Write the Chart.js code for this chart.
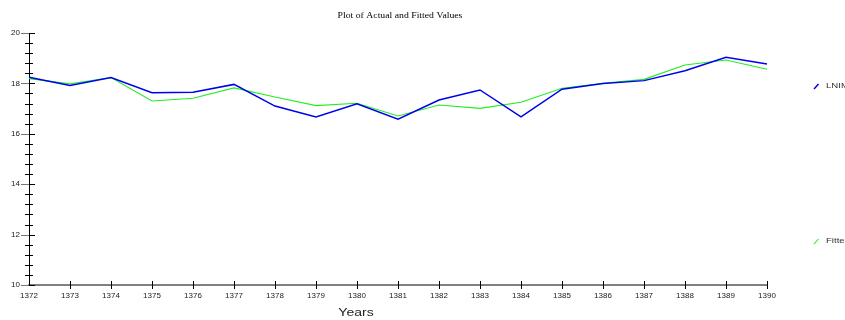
<!DOCTYPE html>
<html>
<head>
<meta charset="utf-8">
<title>Plot of Actual and Fitted Values</title>
<script src="https://cdn.jsdelivr.net/npm/chart.js@4/dist/chart.umd.min.js"></script>
<style>
  html, body { margin: 0; padding: 0; background: #fff; }
  canvas { display: block; }
</style>
</head>
<body>
<canvas id="plot" width="845" height="320"></canvas>
<script>
// data
const years = ['1372', '1373', '1374', '1375', '1376', '1377', '1378', '1379', '1380', '1381',
               '1382', '1383', '1384', '1385', '1386', '1387', '1388', '1389', '1390'];
const lnim = [18.24, 17.92, 18.23, 17.63, 17.65, 17.96, 17.10, 16.67, 17.19, 16.58,
              17.34, 17.74, 16.67, 17.77, 18.00, 18.11, 18.50, 19.04, 18.77];
const fitted = [18.19, 17.98, 18.23, 17.30, 17.41, 17.82, 17.46, 17.12, 17.21, 16.71,
                17.14, 17.01, 17.25, 17.81, 18.00, 18.16, 18.73, 18.93, 18.56];
const yMin = 10, yMax = 20, yStep = 2, yMinorStep = 0.4;

const titleText = 'Plot of Actual and Fitted Values';
const xTitle = 'Years';

// tick marks, title, legend and axis title
const decor = {
    id: 'decor',
    afterDraw(chart) {
        const ctx = chart.ctx;
        const x = chart.scales.x, y = chart.scales.y;
        const ax = chart.chartArea.left, ay = chart.chartArea.bottom;
        ctx.save();
        ctx.lineWidth = 1;

        // y axis minor + major ticks
        for (let v = yMin; v <= yMax + 1e-6; v += yMinorStep) {
            const py = Math.round(y.getPixelForValue(v)) + 0.5;
            const major = Math.abs(v / yStep - Math.round(v / yStep)) < 1e-6;
            ctx.beginPath();
            if (major) {
                ctx.strokeStyle = '#777';
                ctx.moveTo(ax - 8, py); ctx.lineTo(ax, py); ctx.stroke();
                ctx.beginPath();
                ctx.strokeStyle = '#000';
                ctx.moveTo(ax, py); ctx.lineTo(ax + 6, py);
            } else {
                ctx.strokeStyle = '#000';
                ctx.moveTo(ax - 4, py); ctx.lineTo(ax + 4, py);
            }
            ctx.stroke();
        }

        // x ticks crossing the axis
        ctx.strokeStyle = '#000';
        years.forEach((yr, i) => {
            if (i === 0) return;
            const px = Math.round(x.getPixelForValue(i)) + 0.5;
            ctx.beginPath();
            ctx.moveTo(px, ay - 4); ctx.lineTo(px, ay + 4);
            ctx.stroke();
        });

        // title
        ctx.fillStyle = '#000';
        ctx.textAlign = 'center';
        ctx.textBaseline = 'middle';
        ctx.save();
        ctx.translate(400, 16);
        ctx.scale(1.3, 1);
        ctx.font = '7.5px "Liberation Serif", "Times New Roman", serif';
        ctx.fillText(titleText, 0, 0);
        ctx.restore();

        // x axis title
        ctx.save();
        ctx.translate(356, 313);
        ctx.scale(1.4, 1);
        ctx.fillStyle = '#222';
        ctx.font = '10px "Liberation Sans", Arial, sans-serif';
        ctx.fillText(xTitle, 0, 0);
        ctx.restore();

        // legend on the right (runs off the canvas edge as in the original)
        const legendRows = [{ ds: 0, y: 86 }, { ds: 1, y: 241 }];
        legendRows.forEach(r => {
            const ds = chart.data.datasets[r.ds];
            ctx.strokeStyle = ds.borderColor;
            ctx.lineWidth = ds.borderWidth;
            ctx.beginPath();
            ctx.moveTo(814, r.y + 3); ctx.lineTo(818.5, r.y - 2);
            ctx.stroke();
            ctx.save();
            ctx.translate(826, r.y);
            ctx.scale(1.2, 1);
            ctx.textAlign = 'left';
            ctx.fillStyle = '#333';
            ctx.font = '8px "Liberation Sans", Arial, sans-serif';
            ctx.fillText(ds.label, 0, 0);
            ctx.restore();
        });
        ctx.restore();
    }
};

new Chart(document.getElementById('plot'), {
    type: 'line',
    data: {
        labels: years,
        datasets: [{
            label: 'LNIM',
            data: lnim,
            borderColor: '#0000ee',
            borderWidth: 1.5,
            pointRadius: 0,
            tension: 0,
            fill: false
        }, {
            label: 'Fitted',
            data: fitted,
            borderColor: '#22ee22',
            borderWidth: 1.1,
            pointRadius: 0,
            tension: 0,
            fill: false
        }]
    },
    options: {
        responsive: false,
        animation: false,
        events: [],
        layout: { padding: { left: 0, right: 78, top: 33, bottom: 0 } },
        plugins: {
            legend: { display: false },
            title: { display: false },
            tooltip: { enabled: false }
        },
        scales: {
            x: {
                type: 'category',
                offset: false,
                grid: { display: true, drawOnChartArea: false, drawTicks: false },
                border: { display: true, color: '#808080', width: 2 },
                ticks: {
                    padding: 6,
                    color: '#222',
                    autoSkip: false,
                    maxRotation: 0,
                    font: { family: '"Liberation Sans", Arial, sans-serif', size: 8 }
                },
                afterFit(scale) { scale.height = 35; }
            },
            y: {
                min: yMin,
                max: yMax,
                grid: { display: true, drawOnChartArea: false, drawTicks: false },
                border: { display: true, color: '#000', width: 1 },
                ticks: {
                    stepSize: yStep,
                    padding: 9,
                    color: '#222',
                    font: { family: '"Liberation Sans", Arial, sans-serif', size: 8 }
                },
                afterFit(scale) { scale.width = 29; }
            }
        }
    },
    plugins: [decor]
});
</script>
</body>
</html>
